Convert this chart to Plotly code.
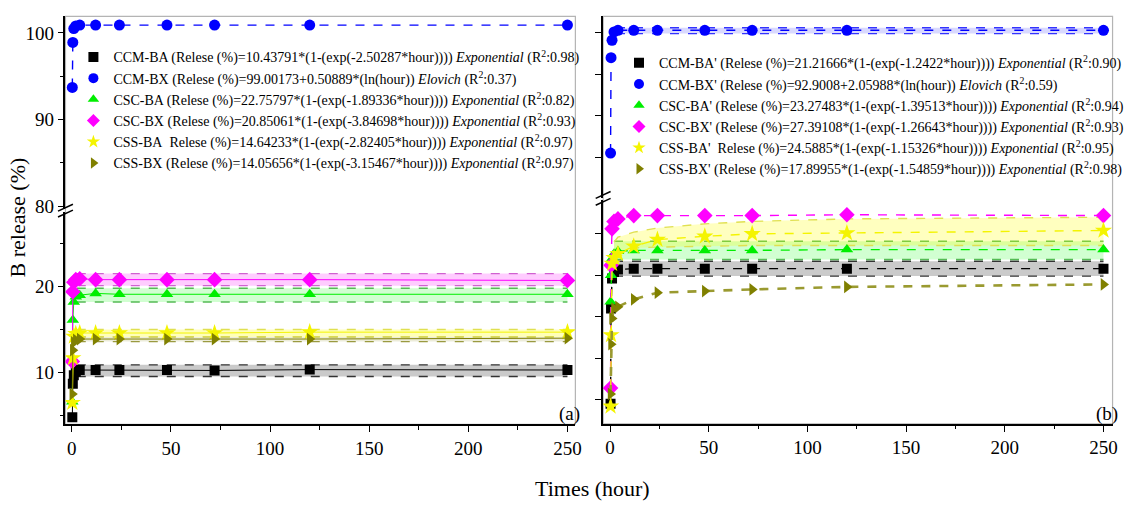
import plotly.graph_objects as go

W, H = 1129, 511

# ---------------- data ----------------
hours = [0.25, 0.5, 1, 2, 4, 12, 24, 48, 72, 120, 250]

# panel (a)
ccm_ba = [4.8, 8.7, 9.7, 10.1, 10.3, 10.3, 10.3, 10.3, 10.25, 10.35, 10.3]
ccm_bx = [93.7, 98.9, 100.5, 100.8, 100.9, 100.9, 100.9, 100.9, 100.9, 100.9, 100.9]
csc_ba = [6.6, 16.1, 18.2, 18.8, 19.0, 19.2, 19.1, 19.1, 19.1, 19.1, 19.1]
csc_bx = [11.3, 19.4, 20.5, 20.8, 20.9, 20.8, 20.8, 20.8, 20.8, 20.8, 20.7]
css_ba = [6.5, 11.7, 14.2, 14.5, 14.6, 14.6, 14.6, 14.6, 14.6, 14.7, 14.7]
css_bx = [7.5, 12.6, 13.5, 13.8, 13.9, 13.9, 13.9, 13.9, 13.9, 13.9, 14.0]

# panel (b)
ccm_ba_b = [4.5, 16.0, 19.6, 20.4, 20.7, 20.8, 20.8, 20.8, 20.8, 20.8, 20.8]
ccm_bx_b = [85.5, 97.0, 99.1, 100.1, 100.3, 100.3, 100.3, 100.3, 100.3, 100.3, 100.3]
csc_ba_b = [16.8, 20.0, 22.0, 22.6, 22.9, 23.0, 23.0, 23.0, 23.0, 23.1, 23.1]
csc_bx_b = [6.4, 21.2, 25.6, 26.5, 26.8, 27.2, 27.2, 27.2, 27.2, 27.3, 27.2]
css_ba_b = [4.2, 12.8, 21.4, 22.1, 22.6, 23.5, 24.3, 24.7, 25.0, 25.1, 25.4]
css_bx_b = [5.7, 11.7, 14.8, 16.0, 16.2, 17.1, 17.9, 18.1, 18.3, 18.6, 18.9]

# confidence bands (a)
band_t_a = [2.5, 250]
band_ccm_ba_lo = [9.55, 9.55]
band_ccm_ba_hi = [10.9, 10.9]
band_csc_bx_lo = [20.1, 20.1]
band_csc_bx_hi = [21.5, 21.5]
band_csc_ba_lo = [18.2, 18.2]
band_csc_ba_hi = [19.8, 19.8]
band_css_ba_lo = [14.15, 14.15]
band_css_ba_hi = [15.0, 15.0]
band_css_bx_lo = [13.6, 13.6]
band_css_bx_hi = [14.15, 14.15]

# confidence bands (b)
band_t_b = [2, 4, 12, 24, 48, 72, 120, 250]
band_ccm_ba_b_lo = [19.9] * 8
band_ccm_ba_b_hi = [21.7] * 8
band_csc_ba_b_lo = [21.9] * 8
band_csc_ba_b_hi = [24.1] * 8
band_css_ba_b_lo = [22.4, 22.8, 23.3, 23.4, 23.5, 23.6, 23.6, 23.6]
band_css_ba_b_hi = [24.0, 24.6, 25.2, 25.7, 26.2, 26.5, 26.8, 27.0]
band_t_b2 = [3, 250]
band_ccm_bx_b_lo = [99.9, 99.9]
band_ccm_bx_b_hi = [100.6, 100.6]

legend_a = [
    "CCM-BA (Relese (%)=10.43791*(1-(exp(-2.50287*hour)))) <i>Exponential</i> (R<sup>2</sup>:0.98)",
    "CCM-BX (Relese (%)=99.00173+0.50889*(ln(hour)) <i>Elovich</i> (R<sup>2</sup>:0.37)",
    "CSC-BA (Relese (%)=22.75797*(1-(exp(-1.89336*hour)))) <i>Exponential</i> (R<sup>2</sup>:0.82)",
    "CSC-BX (Relese (%)=20.85061*(1-(exp(-3.84698*hour)))) <i>Exponential</i> (R<sup>2</sup>:0.93)",
    "CSS-BA\u00a0 Relese (%)=14.64233*(1-(exp(-2.82405*hour)))) <i>Exponential</i> (R<sup>2</sup>:0.97)",
    "CSS-BX (Relese (%)=14.05656*(1-(exp(-3.15467*hour)))) <i>Exponential</i> (R<sup>2</sup>:0.97)",
]
legend_b = [
    "CCM-BA' (Relese (%)=21.21666*(1-(exp(-1.2422*hour)))) <i>Exponential</i> (R<sup>2</sup>:0.90)",
    "CCM-BX' (Relese (%)=92.9008+2.05988*(ln(hour)) <i>Elovich</i> (R<sup>2</sup>:0.59)",
    "CSC-BA' (Relese (%)=23.27483*(1-(exp(-1.39513*hour)))) <i>Exponential</i> (R<sup>2</sup>:0.94)",
    "CSC-BX' (Relese (%)=27.39108*(1-(exp(-1.26643*hour)))) <i>Exponential</i> (R<sup>2</sup>:0.93)",
    "CSS-BA'\u00a0 Relese (%)=24.5885*(1-(exp(-1.15326*hour)))) <i>Exponential</i> (R<sup>2</sup>:0.95)",
    "CSS-BX' (Relese (%)=17.89955*(1-(exp(-1.54859*hour)))) <i>Exponential</i> (R<sup>2</sup>:0.98)",
]

x_ticks = [0, 50, 100, 150, 200, 250]

# ---------------- style ----------------
FONT = "Liberation Serif"
C_BLACK, C_BLUE, C_GREEN = "#000000", "#0000ff", "#00ee00"
C_MAG, C_YEL, C_OLV = "#ff00ff", "#f4f400", "#808000"
symbols = ["square", "circle", "triangle-up", "diamond", "star", "triangle-right"]
colors = [C_BLACK, C_BLUE, C_GREEN, C_MAG, C_YEL, C_OLV]
msizes = [10, 11, 11, 12, 13, 11]


def px(x):
    return x / W


def py(y):
    return 1 - y / H


fig = go.Figure()


def band(x, lo, hi, line_col, fill_col, xa, ya):
    fig.add_trace(go.Scatter(x=x, y=lo, mode="lines", xaxis=xa, yaxis=ya,
                             line=dict(color=line_col, width=1.4, dash="dash"),
                             showlegend=False, hoverinfo="skip"))
    fig.add_trace(go.Scatter(x=x, y=hi, mode="lines", xaxis=xa, yaxis=ya,
                             line=dict(color=line_col, width=1.4, dash="dash"),
                             fill="tonexty", fillcolor=fill_col,
                             showlegend=False, hoverinfo="skip"))


# bands panel (a)
band(band_t_a, band_ccm_ba_lo, band_ccm_ba_hi, "#333333", "rgba(150,150,150,0.5)", "x", "y")
band(band_t_a, band_csc_bx_lo, band_csc_bx_hi, "#d060d0", "rgba(255,0,255,0.2)", "x", "y")
band(band_t_a, band_csc_ba_lo, band_csc_ba_hi, "#55bb55", "rgba(0,255,0,0.18)", "x", "y")
band(band_t_a, band_css_bx_lo, band_css_bx_hi, "#9a9a40", "rgba(128,128,0,0.15)", "x", "y")
band(band_t_a, band_css_ba_lo, band_css_ba_hi, "#e0e050", "rgba(255,255,0,0.28)", "x", "y")

# bands panel (b)
band(band_t_b, band_ccm_ba_b_lo, band_ccm_ba_b_hi, "#333333", "rgba(150,150,150,0.5)", "x2", "y3")
band(band_t_b, band_csc_ba_b_lo, band_csc_ba_b_hi, "#55bb55", "rgba(0,255,0,0.18)", "x2", "y3")
band(band_t_b, band_css_ba_b_lo, band_css_ba_b_hi, "#e0e050", "rgba(255,255,0,0.25)", "x2", "y3")
band(band_t_b2, band_ccm_bx_b_lo, band_ccm_bx_b_hi, "#3333ff", "rgba(0,0,255,0.15)", "x2", "y4")

# series panel (a)
series_a = [ccm_ba, ccm_bx, csc_ba, csc_bx, css_ba, css_bx]
for i, ys in enumerate(series_a):
    ya = "y2" if i == 1 else "y"
    dash = "dash" if i == 1 else "solid"
    lw = 1.4 if i == 1 else 1.0
    fig.add_trace(go.Scatter(x=hours, y=ys, mode="lines+markers", xaxis="x", yaxis=ya,
                             line=dict(color=colors[i], width=lw, dash=dash),
                             marker=dict(symbol=symbols[i], size=msizes[i], color=colors[i]),
                             showlegend=False))

# series panel (b)
series_b = [ccm_ba_b, ccm_bx_b, csc_ba_b, csc_bx_b, css_ba_b, css_bx_b]
for i, ys in enumerate(series_b):
    ya = "y4" if i == 1 else "y3"
    lw = 2.6 if i == 5 else 1.4
    lc = "#9a9a30" if i == 5 else colors[i]
    fig.add_trace(go.Scatter(x=hours, y=ys, mode="lines+markers", xaxis="x2", yaxis=ya,
                             line=dict(color=lc, width=lw, dash="dash"),
                             marker=dict(symbol=symbols[i], size=msizes[i], color=colors[i]),
                             showlegend=False))

# legend entries
for i in range(6):
    fig.add_trace(go.Scatter(x=[None], y=[None], mode="markers", xaxis="x", yaxis="y2",
                             marker=dict(symbol=symbols[i], size=10, color=colors[i]),
                             name=legend_a[i], legend="legend", showlegend=True))
for i in range(6):
    fig.add_trace(go.Scatter(x=[None], y=[None], mode="markers", xaxis="x2", yaxis="y4",
                             marker=dict(symbol=symbols[i], size=10, color=colors[i]),
                             name=legend_b[i], legend="legend2", showlegend=True))

# ---------------- axes ----------------
tickfont = dict(family=FONT, size=19, color="black")
common_x = dict(range=[-3.2, 254], tickvals=x_ticks, ticks="outside", ticklen=6, tickwidth=1.2,
                tickcolor="black", showline=True, linecolor="black", linewidth=1.5,
                showgrid=False, zeroline=False, tickfont=tickfont,
                minor=dict(ticks="outside", ticklen=3.5, tickwidth=1.2, tickcolor="black",
                           dtick=25, tick0=0, showgrid=False))
common_y = dict(ticks="outside", ticklen=6, tickwidth=1.2, tickcolor="black", showline=True,
                linecolor="black", linewidth=1.5, showgrid=False, zeroline=False, tickfont=tickfont,
                minor=dict(ticks="outside", ticklen=3.5, tickwidth=1.2, tickcolor="black",
                           dtick=5, tick0=0, showgrid=False))

L_X0, L_X1 = 66, 580
R_X0, R_X1 = 608, 1121.5
TOP = 16.7
BOT_L, BOT_R = 431, 430.5

legend_font = dict(family=FONT, size=14, color="black")

fig.update_layout(
    width=W, height=H, margin=dict(l=0, r=0, t=0, b=0),
    paper_bgcolor="white", plot_bgcolor="rgba(0,0,0,0)",
    font=dict(family=FONT, color="black"),
    xaxis=dict(common_x, domain=[px(L_X0), px(L_X1)], anchor="y"),
    xaxis2=dict(common_x, domain=[px(R_X0), px(R_X1)], anchor="y3", range=[-3.5, 254.6]),
    yaxis=dict(common_y, domain=[py(BOT_L), py(215)], range=[4.0, 28.7], anchor="x",
               tickvals=[10, 20]),
    yaxis2=dict(common_y, domain=[py(212), py(TOP)], range=[79.7, 101.9], anchor="x",
                tickvals=[80, 90, 100]),
    yaxis3=dict(common_y, domain=[py(BOT_R), py(203)], range=[2.1, 29.1], anchor="x2",
                tickvals=[5, 10, 15, 20, 25], showticklabels=False),
    yaxis4=dict(common_y, domain=[py(201), py(TOP)], range=[80.1, 101.97], anchor="x2",
                tickvals=[85, 90, 95, 100], showticklabels=False),
    legend=dict(x=px(74), y=py(42), xanchor="left", yanchor="top", bgcolor="rgba(0,0,0,0)",
                font=legend_font, itemwidth=30, tracegroupgap=0, traceorder="normal"),
    legend2=dict(x=px(624), y=py(48), xanchor="left", yanchor="top", bgcolor="rgba(0,0,0,0)",
                 font=legend_font, itemwidth=30, tracegroupgap=0, traceorder="normal"),
    showlegend=True,
)

# frames and break marks
shapes = []
for (x0, x1, yb) in [(L_X0, L_X1, BOT_L), (R_X0, R_X1, BOT_R)]:
    shapes.append(dict(type="rect", xref="paper", yref="paper", x0=px(x0), x1=px(x1),
                       y0=py(yb), y1=py(TOP), line=dict(color="#b4b4b4", width=1.2),
                       layer="below"))
for (xc, ys) in [(L_X0, [211, 217]), (R_X0, [198, 205])]:
    for yc in ys:
        shapes.append(dict(type="line", xref="paper", yref="paper",
                           x0=px(xc - 7.5), x1=px(xc + 7.5), y0=py(yc + 3.5), y1=py(yc - 3.5),
                           line=dict(color="black", width=1.5)))
fig.update_layout(shapes=shapes)

fig.add_annotation(text="B release (%)", xref="paper", yref="paper", x=px(18), y=py(221),
                   xanchor="center", yanchor="middle",
                   textangle=-90, showarrow=False, font=dict(family=FONT, size=22, color="black"))
fig.add_annotation(text="Times (hour)", xref="paper", yref="paper", x=px(597), y=py(496),
                   xanchor="center", yanchor="middle",
                   showarrow=False, font=dict(family=FONT, size=22, color="black"))
fig.add_annotation(text="(a)", xref="paper", yref="paper", x=px(587), y=py(434),
                   xanchor="right", yanchor="bottom", showarrow=False,
                   font=dict(family=FONT, size=19, color="black"))
fig.add_annotation(text="(b)", xref="paper", yref="paper", x=px(1129), y=py(434),
                   xanchor="right", yanchor="bottom", showarrow=False,
                   font=dict(family=FONT, size=19, color="black"))

fig.write_html("out.html", config={"displayModeBar": False},
               post_script="document.body.style.margin='0px';")
